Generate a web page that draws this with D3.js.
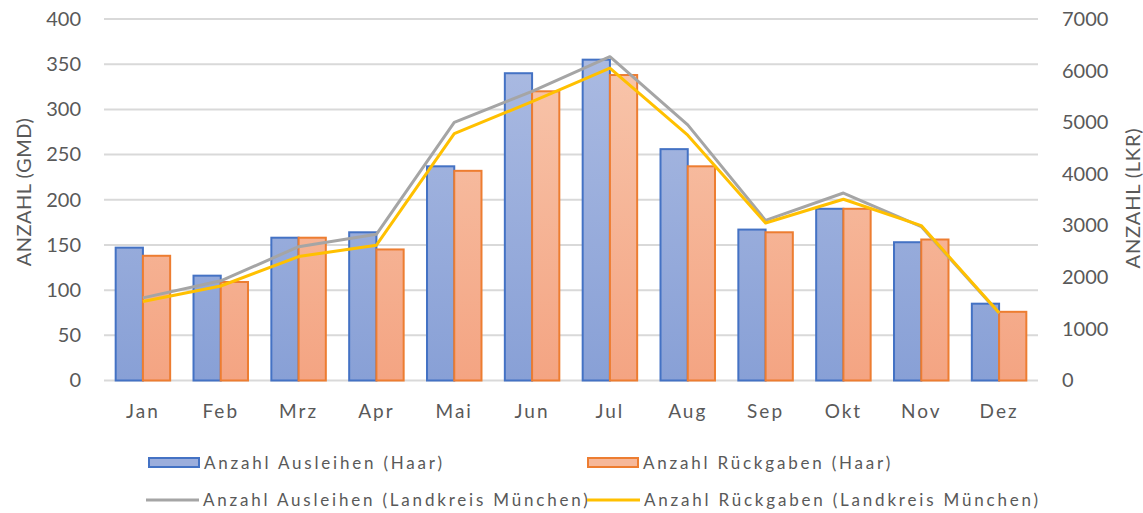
<!DOCTYPE html>
<html><head><meta charset="utf-8">
<script src="https://cdn.jsdelivr.net/npm/d3@7"></script>
<style>body{margin:0;background:#fff;} svg{display:block;font-family:Lato,"Open Sans",sans-serif;}</style>
</head><body>
<svg id="c" width="1143" height="513"></svg>
<script>
const months = ["Jan","Feb","Mrz","Apr","Mai","Jun","Jul","Aug","Sep","Okt","Nov","Dez"];
const ausleihenHaar = [147,116,158,164,237,340,355,256,167,190,153,85];
const rueckgabenHaar = [138,109,158,145,232,320,338,237,164,190,156,76];
const ausleihenLKR = [1600,1930,2590,2830,5000,5600,6270,4950,3100,3630,2980,1300];
const rueckgabenLKR = [1530,1830,2400,2620,4780,5400,6050,4750,3050,3510,3000,1310];
const leftTicks = [0,50,100,150,200,250,300,350,400];
const rightTicks = [0,1000,2000,3000,4000,5000,6000,7000];
const legendLabels = ["Anzahl Ausleihen (Haar)","Anzahl Rückgaben (Haar)","Anzahl Ausleihen (Landkreis München)","Anzahl Rückgaben (Landkreis München)"];

const svg = d3.select("#c");
const L = 104, R = 1038, T = 19, B = 380.5;
const x = d3.scaleBand().domain(months).range([L,R]).paddingInner(0.3).paddingOuter(0.15);
const xc = d3.scaleBand().domain(months).range([L,R]);
const yL = d3.scaleLinear().domain([0,400]).range([B,T]);
const yR = d3.scaleLinear().domain([0,7000]).range([B,T]);
const FONT = "Lato,'Open Sans',sans-serif";

const defs = svg.append("defs");
const gb = defs.append("linearGradient").attr("id","gb").attr("gradientUnits","userSpaceOnUse").attr("y1",T).attr("y2",B).attr("x1",0).attr("x2",0);
gb.append("stop").attr("offset","0").attr("stop-color","#aebde3");
gb.append("stop").attr("offset","1").attr("stop-color","#88a0d6");
const go = defs.append("linearGradient").attr("id","go").attr("gradientUnits","userSpaceOnUse").attr("y1",T).attr("y2",B).attr("x1",0).attr("x2",0);
go.append("stop").attr("offset","0").attr("stop-color","#f8c9b0");
go.append("stop").attr("offset","1").attr("stop-color","#f4a482");

// gridlines
svg.append("g").selectAll("line").data(leftTicks).join("line")
  .attr("x1",L).attr("x2",R).attr("y1",d=>yL(d)).attr("y2",d=>yL(d))
  .attr("stroke","#d9d9d9").attr("stroke-width",2);

// left axis
const axL = svg.append("g").attr("transform",`translate(${L-23},0)`)
  .call(d3.axisLeft(yL).tickValues(leftTicks).tickSize(0).tickPadding(0));
axL.select(".domain").remove();
axL.selectAll("text").attr("fill","#595959").attr("font-size",20).attr("font-family",FONT);

// right axis
const axR = svg.append("g").attr("transform",`translate(${R+24},0)`)
  .call(d3.axisRight(yR).tickValues(rightTicks).tickFormat(d3.format("d")).tickSize(0).tickPadding(0));
axR.select(".domain").remove();
axR.selectAll("text").attr("fill","#595959").attr("font-size",20).attr("font-family",FONT);

// bottom axis
const axB = svg.append("g").attr("transform",`translate(0,${B})`)
  .call(d3.axisBottom(xc).tickSize(0).tickPadding(24));
axB.select(".domain").remove();
axB.selectAll("text").attr("fill","#595959").attr("font-size",19).attr("letter-spacing","2px").attr("font-family",FONT);

// axis titles
svg.append("text").attr("transform",`translate(31,192) rotate(-90)`).attr("text-anchor","middle")
  .attr("fill","#595959").attr("font-size",20).attr("letter-spacing","0.5px").text("ANZAHL (GMD)");
svg.append("text").attr("transform",`translate(1140,198) rotate(-90)`).attr("text-anchor","middle")
  .attr("fill","#595959").attr("font-size",20).attr("letter-spacing","0.8px").text("ANZAHL (LKR)");

// bars
const bw = x.bandwidth()/2;
svg.append("g").selectAll("rect").data(months).join("rect")
  .attr("x",d=>x(d)).attr("width",bw).attr("y",(d,i)=>yL(ausleihenHaar[i])).attr("height",(d,i)=>B-yL(ausleihenHaar[i]))
  .attr("fill","url(#gb)").attr("stroke","#4472c4").attr("stroke-width",2);
svg.append("g").selectAll("rect").data(months).join("rect")
  .attr("x",d=>x(d)+bw).attr("width",bw).attr("y",(d,i)=>yL(rueckgabenHaar[i])).attr("height",(d,i)=>B-yL(rueckgabenHaar[i]))
  .attr("fill","url(#go)").attr("stroke","#ed7d31").attr("stroke-width",2);

// lines
const line = d3.line().x(d=>d[0]).y(d=>d[1]);
const cx = m => xc(m)+xc.bandwidth()/2;
svg.append("path").attr("d",line(months.map((m,i)=>[cx(m),yR(ausleihenLKR[i])])))
  .attr("fill","none").attr("stroke","#a5a5a5").attr("stroke-width",3).attr("stroke-linejoin","round");
svg.append("path").attr("d",line(months.map((m,i)=>[cx(m),yR(rueckgabenLKR[i])])))
  .attr("fill","none").attr("stroke","#ffc000").attr("stroke-width",3).attr("stroke-linejoin","round");

// legend
const lg = svg.append("g").attr("font-size",17).attr("fill","#595959").attr("letter-spacing","2.8px").attr("font-family",FONT);
const items = [
  {x:148,y:462,type:"bar",stroke:"#4472c4",fill:"#9caedc"},
  {x:587,y:462,type:"bar",stroke:"#ed7d31",fill:"#f6b89a"},
  {x:146,y:500,type:"line",stroke:"#a5a5a5"},
  {x:587,y:500,type:"line",stroke:"#ffc000"}
];
items.forEach((it,i)=>{
  if(it.type==="bar"){
    lg.append("rect").attr("x",it.x+1).attr("y",it.y-4).attr("width",50).attr("height",9)
      .attr("fill",it.fill).attr("stroke",it.stroke).attr("stroke-width",2);
    lg.append("text").attr("x",it.x+56).attr("y",it.y+7).text(legendLabels[i]);
  } else {
    lg.append("line").attr("x1",it.x).attr("x2",it.x+53).attr("y1",it.y).attr("y2",it.y)
      .attr("stroke",it.stroke).attr("stroke-width",3);
    lg.append("text").attr("x",it.x+57).attr("y",it.y+6).text(legendLabels[i]);
  }
});
</script>
</body></html>
